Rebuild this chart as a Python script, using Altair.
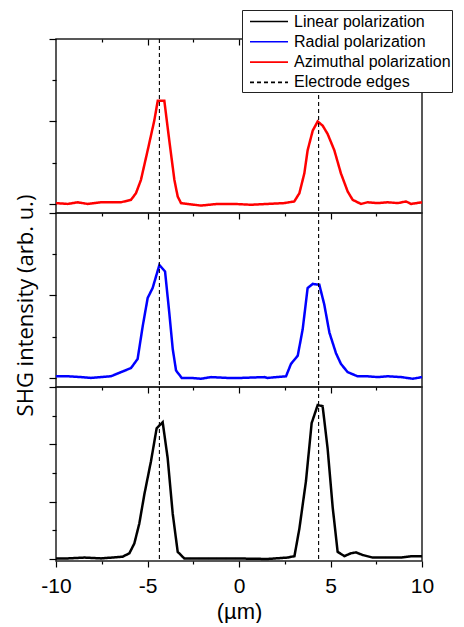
import altair as alt
import pandas as pd

# ---- data ----
x_azimuthal = [-10, -9.36, -8.82, -8.27, -7.54, -6.45, -5.90, -5.63, -5.36, -4.99, -4.63, -4.44,
               -4.08, -3.81, -3.53, -3.35, -3.17, -2.81, -2.08, -1.17, -0.26, 0.64, 1.55, 2.46,
               3.02, 3.30, 3.57, 3.75, 4.03, 4.30, 4.57, 4.84, 5.21, 5.57, 5.94, 6.21, 6.48, 6.67,
               7.03, 7.58, 8.13, 8.68, 9.13, 9.40, 10.0]
y_azimuthal = [0.01, 0.0, 0.02, 0.0, 0.02, 0.02, 0.05, 0.13, 0.29, 0.65, 1.01, 1.25,
               1.25, 0.77, 0.29, 0.09, 0.01, 0.0, -0.02, 0.0, 0.0, -0.01, 0.0, 0.01,
               0.03, 0.13, 0.37, 0.65, 0.89, 1.0, 0.95, 0.85, 0.65, 0.37, 0.15, 0.05, 0.02, 0.0,
               0.02, 0.01, 0.02, 0.01, 0.03, 0.0, 0.02]

x_radial = [-10, -9.36, -8.64, -8.09, -7.54, -7.0, -6.45, -5.90, -5.54, -5.26, -4.99, -4.72,
            -4.35, -4.04, -3.81, -3.62, -3.44, -3.13, -2.62, -2.08, -1.53, -0.62, 0.1, 1.37,
            1.55, 2.57, 2.84, 3.21, 3.48, 3.75, 4.03, 4.39, 4.66, 4.94, 5.30, 5.57, 5.94, 6.48,
            7.03, 7.58, 8.13, 8.86, 9.49, 10.0]
y_radial = [0.02, 0.02, 0.01, 0.0, 0.01, 0.02, 0.07, 0.12, 0.23, 0.63, 0.97, 1.09,
            1.37, 1.29, 0.79, 0.35, 0.09, 0.0, 0.0, -0.01, 0.01, 0.0, 0.0, 0.01,
            0.0, 0.02, 0.17, 0.27, 0.59, 1.09, 1.14, 1.13, 0.89, 0.55, 0.30, 0.17, 0.07, 0.02,
            0.02, 0.01, 0.02, 0.01, -0.01, 0.01]

x_linear = [-10, -9.36, -8.45, -7.54, -6.36, -5.99, -5.72, -5.45, -5.17, -4.81, -4.50, -4.17,
            -3.90, -3.62, -3.35, -2.99, -2.08, -0.26, 1.55, 2.66, 3.03, 3.30, 3.66, 3.97,
            4.30, 4.57, 4.84, 5.12, 5.39, 5.76, 6.12, 6.39, 6.76, 7.30, 7.94, 8.85, 9.49, 10.0]
y_linear = [0.02, 0.02, 0.05, 0.02, 0.08, 0.2, 0.54, 1.23, 2.26, 3.41, 4.56, 4.77,
            3.53, 1.57, 0.25, 0.02, 0.02, 0.02, 0.0, 0.05, 0.10, 1.06, 2.72, 4.74,
            5.37, 5.33, 3.87, 1.80, 0.25, 0.10, 0.20, 0.23, 0.14, 0.05, 0.05, 0.05, 0.10, 0.10]

electrode_edges = [-4.35, 4.35]

series_names = ["Linear polarization", "Radial polarization",
                "Azimuthal polarization", "Electrode edges"]
series_colors = ["#000000", "#0000ff", "#ff0000", "#000000"]
series_dashes = [[1, 0], [1, 0], [1, 0], [4, 3]]

x_ticks_all = [-10, -7.5, -5, -2.5, 0, 2.5, 5, 7.5, 10]
x_ticks_inner = [-7.5, -5, -2.5, 0, 2.5, 5, 7.5]
y_ticks_small = [0, 0.5, 1, 1.5, 2]
y_ticks_large = [0, 1, 2, 3, 4, 5, 6]
y_domain_small = [-0.11, 2.0]
y_domain_large = [-0.07, 6.0]
x_title = "(µm)"
y_title = "SHG intensity (arb. u.)"

W, H = 366, 174

color_scale = alt.Scale(domain=series_names, range=series_colors)
dash_scale = alt.Scale(domain=series_names, range=series_dashes)
legend = alt.Legend(title=None, orient="none", legendX=186, legendY=-29,
                    symbolType="M-1,0H3", symbolSize=361, symbolStrokeWidth=1.6,
                    symbolOffset=6, labelOffset=24, labelFontSize=16,
                    labelFont="Liberation Sans", labelColor="black",
                    padding=1, rowPadding=1.3, strokeColor="#222", fillColor="white",
                    cornerRadius=0, labelLimit=400)

xscale = alt.Scale(domain=[-10, 10], nice=False, zero=False)


def make_panel(xs, ys, name, ydomain, yticks, ymajor, bottom=False, title=None):
    df = pd.DataFrame({"x": xs, "y": ys, "series": name})
    edges_df = pd.DataFrame({"x": electrode_edges, "series": "Electrode edges"})
    inward_axis = alt.Axis(orient="bottom", offset=-H, values=x_ticks_inner, labels=False,
                           domain=False, grid=False, title=None,
                           tickSize={"condition": {"test": "datum.value % 5 === 0", "value": 6},
                                     "value": 3})
    if bottom:
        line_x_axis = alt.Axis(orient="bottom", values=x_ticks_all, domain=False, grid=False,
                               labelExpr="datum.value % 5 === 0 ? (datum.value < 0 ? '-' : '') + abs(datum.value) : ''",
                               labelFontSize=21, labelPadding=8, labelFlush=False,
                               title=x_title, titleFontSize=22, titlePadding=5,
                               titleFontWeight="normal",
                               tickSize={"condition": {"test": "datum.value % 5 === 0", "value": 6},
                                         "value": 3})
    else:
        line_x_axis = None
    yaxis = alt.Axis(values=yticks, labels=False, domain=False, grid=False,
                     title=title, titleFont="Open Sans", titleFontSize=22,
                     titleFontWeight="normal", titlePadding=11, titleY=H / 2 + 5,
                     tickSize={"condition": {"test": f"datum.value % {ymajor} === 0", "value": 7},
                               "value": 4})
    line = alt.Chart(df).mark_line(strokeWidth=2.5).encode(
        x=alt.X("x:Q", scale=xscale, axis=line_x_axis),
        y=alt.Y("y:Q", scale=alt.Scale(domain=ydomain, nice=False, zero=False), axis=yaxis),
        color=alt.Color("series:N", scale=color_scale, legend=legend),
        strokeDash=alt.StrokeDash("series:N", scale=dash_scale, legend=legend),
        order=alt.Order("x:Q"),
    )
    rule = alt.Chart(edges_df).mark_rule(strokeWidth=1.1).encode(
        x=alt.X("x:Q", scale=xscale, axis=inward_axis),
        color=alt.Color("series:N", scale=color_scale, legend=legend),
        strokeDash=alt.StrokeDash("series:N", scale=dash_scale, legend=legend),
    )
    return alt.layer(line, rule).resolve_axis(x="independent").properties(width=W, height=H)


top = make_panel(x_azimuthal, y_azimuthal, "Azimuthal polarization", y_domain_small, y_ticks_small, 1)
mid = make_panel(x_radial, y_radial, "Radial polarization", y_domain_small, y_ticks_small, 1,
                 title=y_title)
bot = make_panel(x_linear, y_linear, "Linear polarization", y_domain_large, y_ticks_large, 2,
                 bottom=True)

chart = alt.vconcat(top, mid, bot, spacing=0, bounds="flush").properties(
    padding={"left": 5, "top": 1, "right": 0, "bottom": 0}
).configure_view(
    stroke="#222", strokeWidth=1.5
).configure_axis(
    tickColor="black", tickWidth=1.2, labelColor="black", titleColor="black",
    labelFont="Liberation Sans", titleFont="Liberation Sans"
)

chart.save("out.html", embed_options={"renderer": "svg", "actions": False})
